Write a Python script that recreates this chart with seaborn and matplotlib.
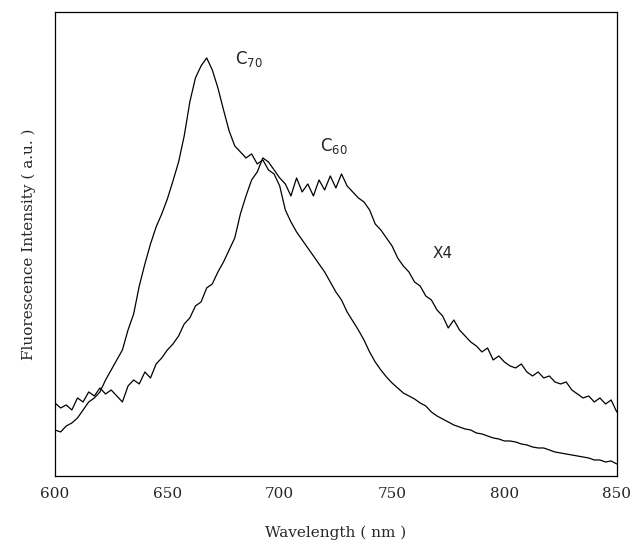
import numpy as np
import pandas as pd
import matplotlib
matplotlib.use("Agg")
import matplotlib.pyplot as plt
import seaborn as sns

# Intensities (arbitrary units) sampled every 2.5 nm from 600 to 850 nm
c70 = [46, 44, 50, 53, 58, 66, 74, 78, 84, 96,
       106, 116, 126, 146, 162, 190, 212, 232, 249, 262,
       277, 295, 314, 340, 374, 398, 410, 418, 406, 388,
       366, 345, 330, 324, 318, 322, 312, 316, 306, 302,
       290, 266, 254, 244, 236, 228, 220, 212, 204, 194,
       184, 176, 164, 155, 146, 136, 124, 114, 106, 99,
       93, 88, 83, 80, 77, 73, 70, 64, 60, 57,
       54, 51, 49, 47, 46, 43, 42, 40, 38, 37,
       35, 35, 34, 32, 31, 29, 28, 28, 26, 24,
       23, 22, 21, 20, 19, 18, 16, 16, 14, 15,
       12]
c60_x4 = [73, 68, 71, 66, 78, 74, 84, 80, 88, 82,
          86, 80, 74, 90, 96, 92, 104, 98, 112, 118,
          126, 132, 140, 152, 158, 170, 174, 188, 192, 204,
          214, 226, 238, 262, 280, 296, 304, 318, 314, 306,
          298, 292, 280, 298, 284, 292, 280, 296, 286, 300,
          288, 302, 290, 284, 278, 274, 266, 252, 246, 238,
          230, 218, 210, 204, 194, 190, 180, 176, 166, 160,
          148, 156, 146, 140, 134, 130, 124, 128, 116, 120,
          114, 110, 108, 112, 104, 100, 104, 98, 100, 94,
          92, 94, 86, 82, 78, 80, 74, 78, 72, 76,
          64]
wavelength = np.linspace(600, 850, len(c70))
x_ticks = [600, 650, 700, 750, 800, 850]

df = pd.concat([
    pd.DataFrame({"Wavelength": wavelength, "Intensity": c70, "Sample": "C70"}),
    pd.DataFrame({"Wavelength": np.linspace(600, 850, len(c60_x4)), "Intensity": c60_x4, "Sample": "C60"}),
])

sns.set_style("white")
plt.rcParams['font.family'] = ['DejaVu Serif']

fig = plt.figure(figsize=(6.3, 5.42), dpi=100)
ax = fig.add_axes([0.0873, 0.1218, 0.8917, 0.8562])
sns.lineplot(data=df, x="Wavelength", y="Intensity", hue="Sample", units="Sample",
             estimator=None, palette={"C70": "black", "C60": "black"},
             linewidth=0.9, legend=False, ax=ax)

ax.set_xlim(600, 850)
ax.set_ylim(0, 464)
ax.set_xticks(x_ticks)
ax.set_xticklabels([str(t) for t in x_ticks], fontsize=11)
ax.set_yticks([])
ax.tick_params(axis="x", direction="in", length=4, width=0.8, pad=8)
for s in ax.spines.values():
    s.set_color("black")
    s.set_linewidth(0.9)

ax.set_xlabel("Wavelength ( nm )", fontsize=11, labelpad=18)
ax.set_ylabel("Fluorescence Intensity ( a.u. )", fontsize=11, labelpad=14)

ax.text(680, 412, r"$\mathregular{C_{70}}$", fontsize=12, family="DejaVu Sans")
ax.text(718, 325, r"$\mathregular{C_{60}}$", fontsize=12, family="DejaVu Sans")
ax.text(768, 218, "X4", fontsize=11, family="DejaVu Sans")

fig.savefig("out.png", dpi=100)
